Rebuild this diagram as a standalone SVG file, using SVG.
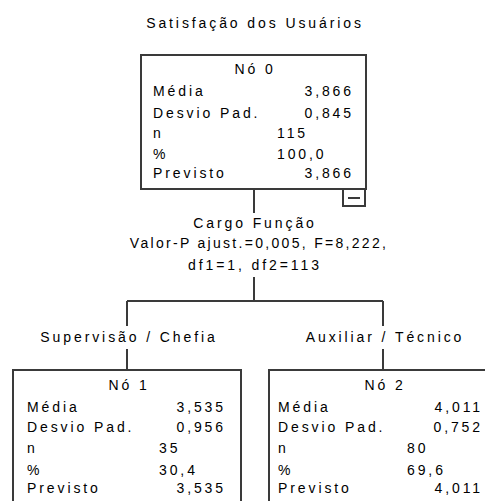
<svg xmlns="http://www.w3.org/2000/svg" width="485" height="501" viewBox="0 0 485 501">
<style>
text{font-family:"Liberation Sans",Arial,sans-serif;font-size:14px;fill:#000;letter-spacing:2.9px}
.m{text-anchor:middle}
.e{text-anchor:end}
.box{fill:#fff;stroke:#3a3a3a;stroke-width:2}
.ln{fill:none;stroke:#3a3a3a;stroke-width:2}
</style>
<rect width="485" height="501" fill="#fff"/>
<text class="m" x="255" y="28">Satisfação dos Usuários</text>
<g id="connectors">
<path class="ln" d="M254 190V213M254 277V301M127 301H383M127 301V326M127 349V370M383 301V326M383 349V370"/>
</g>
<g id="edge-labels">
<text class="m" x="255" y="228">Cargo Função</text>
<text class="m" x="259" y="248" style="letter-spacing:2.3px">Valor-P ajust.=0,005, F=8,222,</text>
<text class="m" x="255" y="270">df1=1, df2=113</text>
<text class="m" x="129" y="342">Supervisão / Chefia</text>
<text class="m" x="385" y="342">Auxiliar / Técnico</text>
</g>
<g id="node0">
<rect class="box" x="141" y="55" width="225" height="134"/>
<rect class="box" x="343" y="189" width="22" height="17"/>
<path class="ln" d="M348 198H360" stroke-width="1.5"/>
<text class="m" x="255" y="74">Nó 0</text>
<text x="153" y="96">Média</text><text class="e" x="354" y="96">3,866</text>
<text x="153" y="118">Desvio Pad.</text><text class="e" x="354" y="118">0,845</text>
<text x="153" y="138">n</text><text x="277" y="138">115</text>
<text x="153" y="159">%</text><text x="277" y="159">100,0</text>
<text x="153" y="178">Previsto</text><text class="e" x="354" y="178">3,866</text>
</g>
<g id="node1">
<rect class="box" x="13" y="370" width="228" height="140"/>
<text class="m" x="129" y="390">Nó 1</text>
<text x="27" y="412">Média</text><text class="e" x="226" y="412">3,535</text>
<text x="27" y="432">Desvio Pad.</text><text class="e" x="226" y="432">0,956</text>
<text x="27" y="453">n</text><text x="159" y="453">35</text>
<text x="27" y="475">%</text><text x="159" y="475">30,4</text>
<text x="27" y="493">Previsto</text><text class="e" x="226" y="493">3,535</text>
</g>
<g id="node2">
<rect class="box" x="269" y="370" width="228" height="140"/>
<text class="m" x="385" y="390">Nó 2</text>
<text x="278" y="412">Média</text><text class="e" x="483" y="412">4,011</text>
<text x="278" y="432">Desvio Pad.</text><text class="e" x="483" y="432">0,752</text>
<text x="278" y="453">n</text><text x="407" y="453">80</text>
<text x="278" y="475">%</text><text x="407" y="475">69,6</text>
<text x="278" y="493">Previsto</text><text class="e" x="483" y="493">4,011</text>
</g>
</svg>
